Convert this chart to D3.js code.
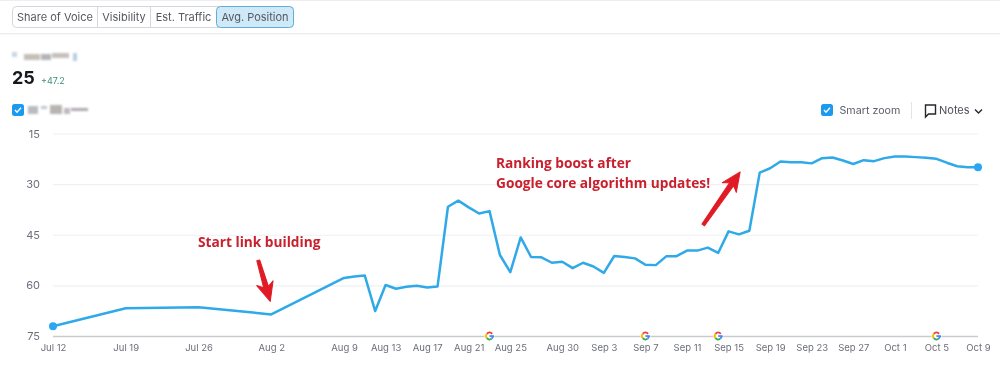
<!DOCTYPE html>
<html>
<head>
<meta charset="utf-8">
<script src="https://cdn.jsdelivr.net/npm/d3@7"></script>
<style>
  html, body { margin: 0; padding: 0; background: #fff; }
  svg { display: block; font-family: Inter, "Open Sans", sans-serif; filter: blur(0.55px); }
  .tick text { fill: #6c6e79; }
  .note { font-family: "Open Sans", sans-serif; font-weight: 700; font-size: 13.7px; fill: #c9202e; }
</style>
</head>
<body>
<svg id="chart" width="1000" height="369"></svg>
<script>
var width = 1000;
var height = 369;

// sparse weekly crawl first, then one value a day from Aug 9
var weeklyDates = ["2023-07-12", "2023-07-19", "2023-07-26", "2023-08-02"];
var weeklyValues = [72.1, 66.8, 66.5, 68.6];
var dailyStart = "2023-08-09";
var dailyValues = [
  57.8, 57.4, 57.1, 67.6, 59.9, 61, 60.4, 60.1, 60.6, 60.3, 36.7, 34.9, 36.9, 38.7, 38, 51,
  56.1, 45.8, 51.6, 51.7, 53.3, 53, 54.9, 53.3, 54.4, 56.3, 51.3, 51.6, 52, 53.9, 54, 51.4,
  51.35, 49.7, 49.7, 48.8, 50.4, 44, 44.9, 43.8, 26.6, 25.3, 23.3, 23.5, 23.5, 23.85, 22.3, 22.1,
  23, 24.05, 22.9, 23.2, 22.3, 21.8, 21.8, 22, 22.2, 22.5, 23.65, 24.7, 25, 25
];
var tickDates = ["2023-07-12", "2023-07-19", "2023-07-26", "2023-08-02", "2023-08-09", "2023-08-13",
  "2023-08-17", "2023-08-21", "2023-08-25", "2023-08-30", "2023-09-03", "2023-09-07", "2023-09-11",
  "2023-09-15", "2023-09-19", "2023-09-23", "2023-09-27", "2023-10-01", "2023-10-05", "2023-10-09"];
var yTicks = [15, 30, 45, 60, 75];
var googleUpdates = ["2023-08-23", "2023-09-07", "2023-09-14", "2023-10-05"];
var tabs = ["Share of Voice", "Visibility", "Est. Traffic", "Avg. Position"];
var tabEdges = [12, 97, 150, 216, 293];

var parse = d3.utcParse("%Y-%m-%d");
var data = weeklyDates.map(function(d, i) {
  return { date: parse(d), value: weeklyValues[i] };
}).concat(dailyValues.map(function(v, i) {
  return { date: d3.utcDay.offset(parse(dailyStart), i), value: v };
}));

var x = d3.scaleUtc().domain([parse("2023-07-12"), parse("2023-10-09")]).range([53, 978]);
var y = d3.scaleLinear().domain([15, 75]).range([133.5, 336]);

var svg = d3.select("#chart");
var blue = "#2fa9e8";

// header
svg.append("rect").attr("x", 0).attr("y", 0).attr("width", width).attr("height", 1).attr("fill", "#eceef0");
svg.append("rect").attr("x", 0).attr("y", 33).attr("width", width).attr("height", 1.5).attr("fill", "#eceef0");
svg.append("rect").attr("x", 12.5).attr("y", 6.5).attr("width", 281).attr("height", 21).attr("rx", 4)
  .attr("fill", "#fff").attr("stroke", "#d5d7dc");
var tab = svg.selectAll(".tab").data(tabs).enter().append("g").attr("class", "tab");
tab.filter(function(d, i) { return i === 3; }).append("rect")
  .attr("x", tabEdges[3] + 0.5).attr("y", 6.5).attr("width", tabEdges[4] - tabEdges[3]).attr("height", 21).attr("rx", 4)
  .attr("fill", "#cfe9f8").attr("stroke", "#5eaed8");
tab.filter(function(d, i) { return i > 0 && i < 3; }).append("line")
  .attr("x1", function(d, i) { return tabEdges[i + 1] + 0.5; })
  .attr("x2", function(d, i) { return tabEdges[i + 1] + 0.5; })
  .attr("y1", 7).attr("y2", 27).attr("stroke", "#d5d7dc");
tab.append("text")
  .attr("x", function(d, i) { return (tabEdges[i] + tabEdges[i + 1]) / 2 + 0.5; })
  .attr("y", 21).attr("text-anchor", "middle").attr("font-size", 11).attr("fill", "#55585f")
  .text(function(d) { return d; });

// pixelated (hidden) names
var defs = svg.append("defs");
defs.append("filter").attr("id", "soft").append("feGaussianBlur").attr("stdDeviation", 0.8);
var blobs = svg.append("g").attr("filter", "url(#soft)");
[[12, 52, 5, 5, "#c9d6e4"], [24, 54, 16, 6, "#c4c0b8"], [41, 54, 10, 6, "#b4b4b8"], [52, 53, 17, 5, "#c6bfbb"], [73, 53, 4, 8, "#b4d0e4"],
 [28, 106, 10, 8, "#b8bcc0"], [41, 106, 6, 3, "#c4c6c8"], [50, 105, 12, 9, "#b8b4b0"], [64, 108, 6, 6, "#bcbcc0"], [71, 108, 17, 3, "#b0a8b0"]].forEach(function(b) {
  blobs.append("rect").attr("x", b[0]).attr("y", b[1]).attr("width", b[2]).attr("height", b[3]).attr("fill", b[4]);
});

svg.append("text").attr("x", 12).attr("y", 84).attr("font-size", 18).attr("font-weight", 700).attr("fill", "#17181c").text("25");
svg.append("text").attr("x", 41).attr("y", 84).attr("font-size", 9).attr("fill", "#3f8f7c").text("+47.2");

function checkbox(cx, cy) {
  var g = svg.append("g").attr("transform", "translate(" + cx + "," + cy + ")");
  g.append("rect").attr("x", -6).attr("y", -6).attr("width", 12).attr("height", 12).attr("rx", 2.5).attr("fill", "#1b9af0");
  g.append("path").attr("d", "M-3,0L-1,2.2L3,-2.2").attr("fill", "none").attr("stroke", "#fff").attr("stroke-width", 1.4);
}
checkbox(18, 110);
checkbox(827, 110);
svg.append("text").attr("x", 839.5).attr("y", 114).attr("font-size", 10.7).attr("fill", "#5d6068").text("Smart zoom");
svg.append("line").attr("x1", 911.5).attr("x2", 911.5).attr("y1", 102).attr("y2", 119).attr("stroke", "#e2e4e7");
svg.append("path").attr("d", "M925.5,105H935.5V114H928.5L925.5,117Z").attr("fill", "none").attr("stroke", "#25272c").attr("stroke-width", 1.4);
svg.append("text").attr("x", 939).attr("y", 114).attr("font-size", 11).attr("fill", "#4d5058").text("Notes");
svg.append("path").attr("d", "M975,109.5L978.5,113L982,109.5").attr("fill", "none").attr("stroke", "#25272c").attr("stroke-width", 1.4);

// axes
var yAxis = svg.append("g").attr("transform", "translate(53,0)")
  .call(d3.axisLeft(y).tickValues(yTicks).tickSize(-925).tickPadding(13));
yAxis.select(".domain").remove();
yAxis.selectAll(".tick line").attr("stroke", function(d) { return d === 75 ? "#c9cbcf" : "#eef0f2"; })
  .attr("stroke-width", function(d) { return d === 75 ? 1.5 : 1.2; });
yAxis.selectAll(".tick text").attr("font-size", 11).attr("font-family", "Inter");

var xAxis = svg.append("g").attr("transform", "translate(0,336)")
  .call(d3.axisBottom(x).tickValues(tickDates.map(parse)).tickSize(0).tickPadding(8).tickFormat(d3.utcFormat("%b %-d")));
xAxis.select(".domain").remove();
xAxis.selectAll(".tick text").attr("font-size", 9.5).attr("font-family", "Inter");

// google update markers, arc angles in degrees clockwise from the top
var gArc = d3.arc().innerRadius(2.5).outerRadius(4.4);
var gColors = ["#ea4335", "#fbbc05", "#34a853", "#4285f4"];
var gAngles = [[-50, 50], [-130, -50], [-220, -130], [90, 140]];
var gMark = svg.selectAll(".gmark").data(googleUpdates).enter().append("g").attr("class", "gmark")
  .attr("transform", function(d) { return "translate(" + x(parse(d)) + "," + y(75) + ")"; });
gMark.append("circle").attr("r", 5).attr("fill", "#fff");
gAngles.forEach(function(a, i) {
  gMark.append("path").attr("fill", gColors[i])
    .attr("d", gArc({ startAngle: a[0] * Math.PI / 180, endAngle: a[1] * Math.PI / 180 }));
});
gMark.append("rect").attr("x", 0).attr("y", -0.8).attr("width", 4.4).attr("height", 1.7).attr("fill", "#4285f4");

// line
var line = d3.line().x(function(d) { return x(d.date); }).y(function(d) { return y(d.value); });
svg.append("path").datum(data).attr("d", line).attr("fill", "none").attr("stroke", blue)
  .attr("stroke-width", 2.5).attr("stroke-linejoin", "round");
svg.selectAll(".end").data([data[0], data[data.length - 1]]).enter().append("circle").attr("class", "end")
  .attr("cx", function(d) { return x(d.date); }).attr("cy", function(d) { return y(d.value); })
  .attr("r", 4).attr("fill", "#2ba6f2");

// annotations
svg.append("text").attr("class", "note").attr("x", 198).attr("y", 247).text("Start link building");
svg.append("text").attr("class", "note").attr("x", 496).attr("y", 168).text("Ranking boost after");
svg.append("text").attr("class", "note").attr("x", 496).attr("y", 188).text("Google core algorithm updates!");

function arrow(x0, y0, x1, y1) {
  var a = Math.atan2(y1 - y0, x1 - x0);
  var len = Math.hypot(x1 - x0, y1 - y0);
  var g = svg.append("g").attr("transform", "translate(" + x0 + "," + y0 + ")rotate(" + a * 180 / Math.PI + ")");
  g.append("path").attr("fill", "#e11b26").attr("stroke", "#e11b26").attr("stroke-width", 1).attr("stroke-linejoin", "round")
    .attr("d", "M0,-1.5L" + (len - 15) + ",-2.5L" + (len - 19) + ",-8.5L" + len + ",0L" + (len - 19) + ",8.5L" + (len - 15) + ",2.5L0,1.5Z");
}
arrow(x(parse("2023-08-02")) - 13, y(68.6) - 54, x(parse("2023-08-02")) - 1, y(68.6) - 13);
arrow(x(parse("2023-09-14")) - 15, y(50.4) - 28, x(parse("2023-09-14")) + 22, y(50.4) - 81);
</script>
</body>
</html>
